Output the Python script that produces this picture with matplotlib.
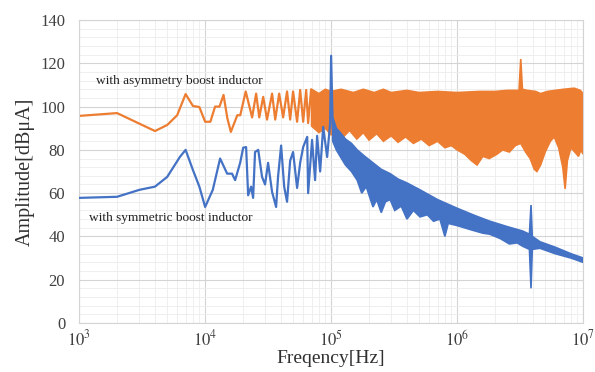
import numpy as np
import matplotlib
matplotlib.use("Agg")
import matplotlib.pyplot as plt
from matplotlib.ticker import LogLocator, MultipleLocator, FixedLocator

plt.rcParams['font.family'] = ['Liberation Serif', 'DejaVu Serif']
plt.rcParams['mathtext.fontset'] = 'stix'

ORANGE = '#ED7D31'
BLUE = '#4472C4'

# ---- orange series (with asymmetry boost inductor), resolved low-frequency part
orange_f = [1000, 2000, 4000, 5000, 6000, 7000, 8000, 9000, 10000, 11000, 12000, 13000,
            14000, 15000, 16000, 18000, 19000, 21000, 23600, 25400, 26900, 28900, 31000,
            34000, 36000, 38700, 41600, 44700, 47300, 49900, 53700, 56800, 60000, 63400,
            65700, 69400, 72000]
orange_v = [95.7, 97, 88.7, 91.5, 96, 105.8, 100.3, 99.8, 93, 93, 100, 100,
            105.4, 94.7, 88.3, 96, 96, 107, 95, 106, 95, 104.5, 94,
            106, 94, 106, 95, 107, 94, 107, 93, 107.7, 93, 107.7,
            92.4, 108, 92]

# orange dense region envelope
orange_hi_f = [70000, 80000, 90000, 100000, 120000, 150000, 180000, 220000, 260000, 300000,
               400000, 500000, 700000, 1e6, 1.5e6, 2e6, 2.5e6, 3.1e6, 3.2e6, 3.3e6, 3.6e6,
               4.2e6, 4.6e6, 5.2e6, 6e6, 7e6, 8.5e6, 9.5e6, 1e7]
orange_hi_v = [108, 106, 108, 107, 108, 106.5, 108, 106.5, 108, 106.5,
               107.5, 106.5, 107, 106.5, 107, 107, 107.5, 107.5, 122, 108, 107.5,
               107, 106, 107, 107.5, 108, 108.5, 107.5, 106]
orange_lo_f = [70000, 80000, 90000, 100000, 110000, 125000, 140000, 160000, 180000, 200000,
               230000, 260000, 300000, 340000, 390000, 450000, 520000, 600000, 700000,
               800000, 900000, 1e6, 1.15e6, 1.3e6, 1.44e6, 1.6e6, 1.8e6, 2.07e6, 2.3e6,
               2.6e6, 2.9e6, 3.2e6, 3.5e6, 3.8e6, 4.1e6, 4.3e6, 4.6e6, 5e6, 5.5e6, 5.9e6,
               6.4e6, 6.9e6, 7.2e6, 7.5e6, 8e6, 8.6e6, 9.2e6, 9.6e6, 1e7]
orange_lo_v = [91, 88, 90, 87, 90, 86, 89, 85, 88, 84.5,
               87.5, 84, 86.5, 83.5, 86, 83, 85, 82, 84,
               81, 82, 80, 78, 75, 73, 77, 76, 78, 80,
               79, 82, 83, 79, 76, 71, 70, 73, 79, 84, 86,
               81, 72, 62, 75, 81, 79, 77, 80, 78]

# ---- blue series (with symmetric boost inductor), resolved low-frequency part
blue_f = [1000, 2000, 3000, 4000, 5000, 6300, 7000, 8000, 9000, 10000, 11500,
          13150, 14960, 16360, 17300, 18970, 20050, 21150, 21950, 23170, 24040,
          24900, 26400, 28300, 29900, 31600, 34000, 36600, 37900, 40100, 42400,
          44700, 47300, 49900, 53700, 56800, 60000, 64600, 65700, 70600, 74600,
          77400, 81800, 86500, 93000, 98200, 100000, 103000]
blue_v = [57.8, 58.3, 61.5, 63, 67.5, 76.7, 80, 70.7, 63, 53.6, 61.5,
          76, 69, 69, 66, 74, 81, 81.3, 59, 63, 57.8,
          79, 80, 67.5, 64, 74, 60.5, 53.6, 67.5, 82, 63,
          56, 75, 79, 62.4, 74, 81.3, 86, 60, 84.6, 66,
          86.5, 70, 90.6, 76.7, 92.4, 123.5, 90]

# blue dense region envelope
blue_hi_f = [103000, 110000, 118000, 130000, 145000, 161000, 185000, 215000, 250000, 294000,
             340000, 400000, 508000, 700000, 1e6, 1.4e6, 1.82e6, 2.5e6, 3.3e6, 3.75e6,
             3.86e6, 3.95e6, 4.55e6, 6e6, 8e6, 1e7]
blue_hi_v = [95, 90, 88, 85, 83, 80, 77, 74, 71, 69,
             66.5, 64.7, 61.5, 57, 53, 49.5, 47, 44.5, 42.5, 41,
             54.5, 40, 37.5, 35, 32, 30]
blue_lo_f = [103000, 110000, 118000, 130000, 145000, 161000, 175000, 190000, 215000, 230000,
             250000, 270000, 294000, 320000, 360000, 400000, 450000, 508000, 580000, 650000,
             730000, 800000, 850000, 1e6, 1.3e6, 1.6e6, 1.82e6, 2.2e6, 2.6e6, 3.0e6, 3.3e6,
             3.75e6, 3.86e6, 3.95e6, 4.55e6, 6e6, 8e6, 1e7]
blue_lo_v = [84, 80, 77, 73, 70, 66, 60, 63, 53.6, 57,
             51, 56, 57, 52, 54, 48, 52, 49, 50, 47,
             48, 40, 46, 45, 43, 41.5, 41, 39, 36.5, 37, 35.5,
             34, 16, 34, 34.5, 32, 30, 28]

yticks = [0, 20, 40, 60, 80, 100, 120, 140]
xticks = [1e3, 1e4, 1e5, 1e6, 1e7]
xticklabels = [r'$10^3$', r'$10^4$', r'$10^5$', r'$10^6$', r'$10^7$']

fig = plt.figure(figsize=(5.95, 3.72), dpi=100)
ax = fig.add_axes([0.133, 0.132, 0.847, 0.814])

ax.set_xscale('log')
ax.set_xlim(1e3, 1e7)
ax.set_ylim(0, 140)

# grid
ax.set_axisbelow(True)
ax.yaxis.set_major_locator(FixedLocator(yticks))
ax.yaxis.set_minor_locator(MultipleLocator(4))
ax.xaxis.set_major_locator(FixedLocator(xticks))
ax.xaxis.set_minor_locator(LogLocator(base=10, subs=np.arange(2, 10), numticks=20))
ax.grid(which='major', color='#d4d4d4', lw=0.8)
ax.grid(which='minor', color='#ededed', lw=0.6)

def band(ax, fh, vh, fl, vl, color, z):
    xs = np.concatenate([fh, fl[::-1]])
    ys = np.concatenate([vh, vl[::-1]])
    ax.fill(xs, ys, color=color, lw=1.2, ec=color, zorder=z)

# orange
band(ax, np.array(orange_hi_f), np.array(orange_hi_v),
     np.array(orange_lo_f), np.array(orange_lo_v), ORANGE, 2)
ax.plot(orange_f, orange_v, color=ORANGE, lw=1.6, zorder=2.1)

# blue
band(ax, np.array(blue_hi_f), np.array(blue_hi_v),
     np.array(blue_lo_f), np.array(blue_lo_v), BLUE, 3)
ax.plot(blue_f, blue_v, color=BLUE, lw=1.6, zorder=3.1)

ax.set_xticks(xticks)
ax.set_xticklabels(xticklabels)
ax.set_yticks(yticks)
ax.tick_params(which='both', length=0, labelsize=12, colors='#404040')
ax.tick_params(axis='y', pad=10)
ax.tick_params(axis='x', pad=5)

for s in ax.spines.values():
    s.set_color('#d4d4d4')
    s.set_linewidth(0.8)

ax.set_xlabel('Freqency[Hz]', fontsize=14, color='#303030', labelpad=0)
ax.set_ylabel('Amplitude[dBμA]', fontsize=14.5, color='#303030', labelpad=4)

ax.text(1364, 111.8, 'with asymmetry boost inductor', fontsize=9.6, va='center', ha='left',
        color='#202020', zorder=5)
ax.text(1200, 48.5, 'with symmetric boost inductor', fontsize=9.6, va='center', ha='left',
        color='#202020', zorder=5)

fig.savefig('out.png', dpi=100)
